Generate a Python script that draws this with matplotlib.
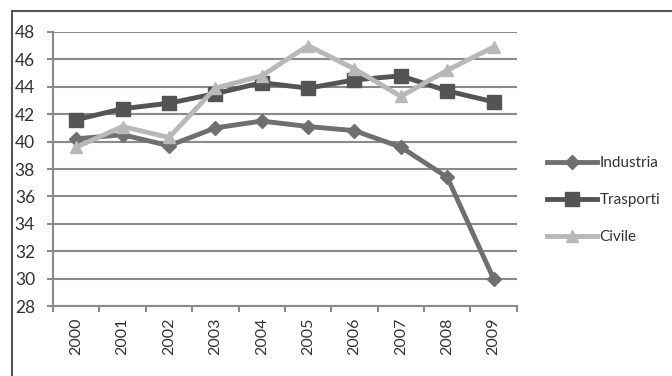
import matplotlib.pyplot as plt
from matplotlib.lines import Line2D

plt.rcParams["font.family"] = ["Lato", "DejaVu Sans"]

# consumi per settore, 2000-2009
anni = ["2000", "2001", "2002", "2003", "2004", "2005", "2006", "2007", "2008", "2009"]
industria = [40.2, 40.5, 39.7, 41.0, 41.5, 41.1, 40.8, 39.6, 37.4, 30.0]
trasporti = [41.6, 42.4, 42.8, 43.5, 44.3, 43.9, 44.5, 44.8, 43.7, 42.9]
civile = [39.6, 41.1, 40.3, 43.9, 44.8, 47.0, 45.3, 43.3, 45.2, 46.9]

fig = plt.figure(figsize=(6.72, 3.76), dpi=100)
ax = fig.add_axes([0.079, 0.186, 0.690, 0.729])

x = range(len(anni))
ax.plot(x, industria, color="#6f6f6f", lw=3.5, marker="D", ms=7, label="Industria", zorder=4)
ax.plot(x, trasporti, color="#545454", lw=3.5, marker="s", ms=10, label="Trasporti", zorder=3)
ax.plot(x, civile, color="#b8b8b8", lw=3.5, marker="^", ms=9, label="Civile", zorder=5)

ax.set_ylim(28, 48)
ax.set_yticks(range(28, 49, 2))
ax.set_xlim(-0.5, len(anni) - 0.5)
ax.set_xticks(list(x))
ax.set_xticklabels(anni, rotation=90)
ax.set_xticks([i - 0.5 for i in range(len(anni) + 1)], minor=True)

ax.grid(axis="y", color="#8a8a8a", lw=1.5)
ax.set_axisbelow(True)
for s in ["top", "right"]:
    ax.spines[s].set_visible(False)
for s in ["left", "bottom"]:
    ax.spines[s].set_color("#8a8a8a")
    ax.spines[s].set_linewidth(1.5)

ax.tick_params(axis="x", which="major", length=0, pad=8, labelsize=11.5, labelcolor="#333333")
ax.tick_params(axis="x", which="minor", length=4, width=1.5, color="#8a8a8a")
ax.tick_params(axis="y", length=4, width=1.5, color="#8a8a8a", pad=9, labelsize=12.5, labelcolor="#333333")

ax.legend(loc="center left", bbox_to_anchor=(1.035, 0.387), frameon=False,
          fontsize=11, handlelength=3.3, handletextpad=0.15, labelspacing=1.5,
          labelcolor="#333333")

# cornice del grafico
fig.add_artist(Line2D([12 / 672, 12 / 672], [0, 1 - 11 / 376], color="#555555", lw=1.5))
fig.add_artist(Line2D([12 / 672, 1], [1 - 11 / 376, 1 - 11 / 376], color="#555555", lw=1.5))

fig.savefig("out.png", dpi=100)
